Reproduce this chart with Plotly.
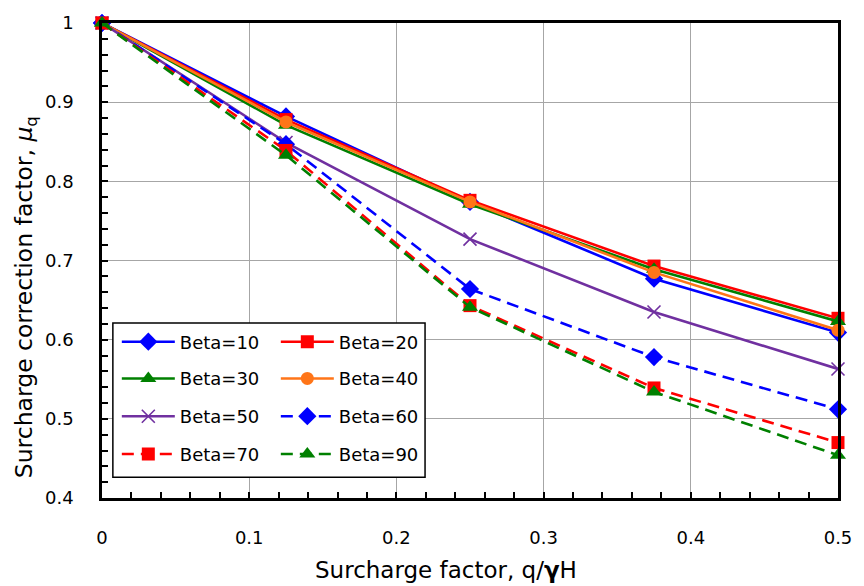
import plotly.graph_objects as go

x_vals = [0, 0.125, 0.25, 0.375, 0.5]

beta10 = [1.0, 0.882, 0.774, 0.677, 0.609]
beta20 = [1.0, 0.878, 0.776, 0.693, 0.627]
beta30 = [1.0, 0.871, 0.771, 0.689, 0.623]
beta40 = [1.0, 0.875, 0.774, 0.685, 0.612]
beta50 = [1.0, 0.849, 0.727, 0.635, 0.563]
beta60 = [1.0, 0.847, 0.664, 0.578, 0.512]
beta70 = [1.0, 0.839, 0.643, 0.539, 0.470]
beta90 = [1.0, 0.833, 0.641, 0.534, 0.454]

names = ["Beta=10", "Beta=20", "Beta=30", "Beta=40", "Beta=50", "Beta=60", "Beta=70", "Beta=90"]
series = [beta10, beta20, beta30, beta40, beta50, beta60, beta70, beta90]

BLUE = "#0000FF"
RED = "#FF0000"
GREEN = "#008000"
ORANGE = "#FF7518"
PURPLE = "#7030A0"

styles = [
    dict(color=BLUE, dash="solid", symbol="diamond", size=14),
    dict(color=RED, dash="solid", symbol="square", size=13),
    dict(color=GREEN, dash="solid", symbol="triangle-up", size=14),
    dict(color=ORANGE, dash="solid", symbol="circle", size=13),
    dict(color=PURPLE, dash="solid", symbol="x-thin", size=13),
    dict(color=BLUE, dash="12px,7px", symbol="diamond", size=14),
    dict(color=RED, dash="12px,7px", symbol="square", size=13),
    dict(color=GREEN, dash="12px,7px", symbol="triangle-up", size=14),
]
legend_ids = ["legend", "legend", "legend2", "legend2", "legend3", "legend3", "legend4", "legend4"]

FONT = "DejaVu Sans"

fig = go.Figure()
for name, ys, st, lg in zip(names, series, styles, legend_ids):
    marker = dict(symbol=st["symbol"], size=st["size"], color=st["color"])
    if st["symbol"] == "x-thin":
        marker["line"] = dict(color=st["color"], width=1.6)
    fig.add_trace(go.Scatter(
        x=x_vals, y=ys, name=name, mode="lines+markers",
        line=dict(color=st["color"], width=2.6, dash=st["dash"]),
        marker=marker, cliponaxis=False, legend=lg,
    ))

L, R, T, B = 102, 17, 20, 88
W, H = 864, 586
pw, ph = W - L - R, H - T - B

def px2x(px):
    return (px - L) / pw

def px2y(py):
    return (H - B - py) / ph

row_centers = [341, 378, 416, 454]
legend_common = dict(
    orientation="h", entrywidth=91, entrywidthmode="pixels",
    font=dict(family=FONT, size=18, color="black"),
    bgcolor="rgba(0,0,0,0)", borderwidth=0, itemwidth=53,
    xanchor="left", yanchor="middle", x=px2x(117), tracegroupgap=0,
)
layout_legends = {}
for i, yc in enumerate(row_centers):
    key = "legend" if i == 0 else "legend%d" % (i + 1)
    layout_legends[key] = dict(legend_common, y=px2y(yc))

axis_common = dict(
    showline=True, linecolor="black", linewidth=2.5, mirror=True,
    showgrid=True, gridcolor="#A6A6A6", gridwidth=1.3,
    ticks="inside", ticklen=6, tickwidth=1.5, tickcolor="black",
    zeroline=False,
    tickfont=dict(family=FONT, size=18, color="black"),
)

fig.update_layout(
    width=W, height=H,
    margin=dict(l=L, r=R, t=T, b=B),
    paper_bgcolor="white", plot_bgcolor="white",
    showlegend=True,
    xaxis=dict(axis_common, range=[0, 0.5], dtick=0.1, tick0=0,
               minor=dict(dtick=0.02, ticks="inside", ticklen=6, tickwidth=1.5, tickcolor="black", showgrid=False),
               ticklabelstandoff=22),
    yaxis=dict(axis_common, range=[0.4, 1.0], dtick=0.1, tick0=0,
               minor=dict(dtick=0.02, ticks="inside", ticklen=6, tickwidth=1.5, tickcolor="black", showgrid=False),
               ticklabelstandoff=22),
    shapes=[dict(type="rect", xref="paper", yref="paper",
                 x0=px2x(113), x1=px2x(429), y0=px2y(477), y1=px2y(322),
                 line=dict(color="black", width=1.5), fillcolor="white", layer="above")],
    annotations=[
        dict(text="Surcharge factor, q/<b>γ</b>H", xref="paper", yref="paper",
             x=px2x(450), y=px2y(570), xanchor="center", yanchor="middle",
             showarrow=False, font=dict(family=FONT, size=23, color="black")),
        dict(text="Surcharge correction factor, <i>μ</i><sub>q</sub>", xref="paper", yref="paper",
             x=px2x(24), y=px2y(296), xanchor="center", yanchor="middle", textangle=-90,
             showarrow=False, font=dict(family=FONT, size=23.5, color="black")),
    ],
    **layout_legends,
)

fig.write_html("out.html")
